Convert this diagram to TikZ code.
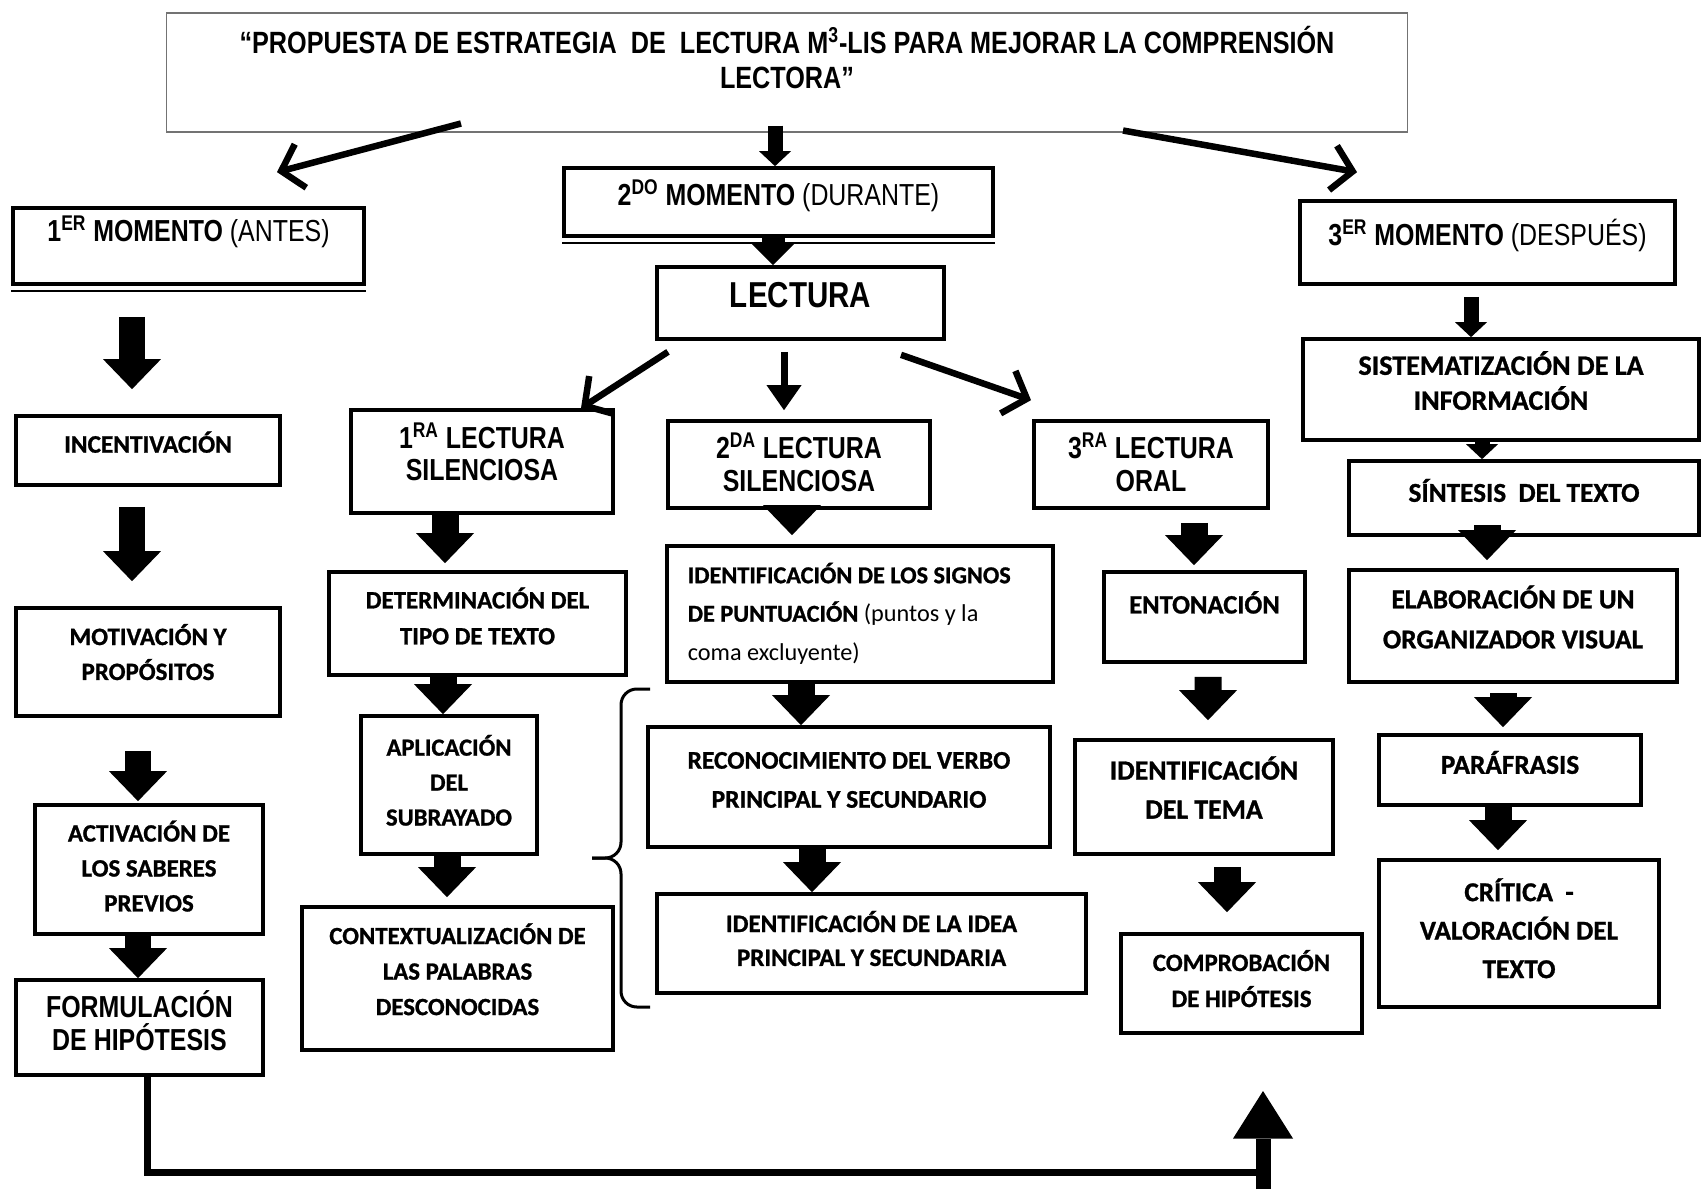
\documentclass[tikz,border=0pt]{standalone}
\usepackage{fontspec}
\setmainfont{Carlito}[BoldFeatures={FakeBold=1}]
\newfontfamily\narrowfont[FakeStretch=0.82]{Liberation Sans}
\usetikzlibrary{arrows.meta}
% texto en varias lineas, subido #2
\newcommand{\lineas}[3][c]{\raisebox{#2}[\height][\depth]{\begin{tabular}{@{}#1@{}}#3\end{tabular}}}

\tikzset{
  caja/.style={draw, line width=2.1pt, inner sep=0pt, align=center},
  titulobox/.style={draw=black!55, line width=0.6pt},
  cal/.style 2 args={font=\bfseries\fontsize{#1}{#2}\selectfont},
  estrecha/.style 2 args={font=\narrowfont\bfseries\fontsize{#1}{#2}\selectfont},
  flecha/.style={line width=0.54cm, -{Triangle[width=1.16cm,length=0.6cm,line width=0pt]}},
  flechita/.style={line width=0.3cm, -{Triangle[width=0.64cm,length=0.3cm,line width=0pt]}},
  flechamedia/.style={line width=0.46cm, -{Triangle[width=0.88cm,length=0.44cm,line width=0pt]}},
  rama/.style={line width=0.13cm, -{Straight Barb[length=0.4cm,width=0.9cm]}},
  ramabaja/.style={line width=0.14cm, -{Triangle[width=0.7cm,length=0.5cm,line width=0pt]}},
  subida/.style={line width=0.3cm, -{Triangle[width=1.2cm,length=0.95cm,line width=0pt]}},
  llave/.style={line width=0.06cm, rounded corners=9},
}

\begin{document}
\begin{tikzpicture}[x=0.02cm, y=-0.02cm]
			%%%%% START %%%%%
			\useasboundingbox (0,0) rectangle (1702,1189);

			% titulo
			\node[titulobox, minimum width=24.84cm, minimum height=2.38cm] (titulo) at (787,72.5) {};
			\node[estrecha={17.5}{19.9}] (titulotexto) at (787,63)
				{\lineas{0cm}{“PROPUESTA DE ESTRATEGIA\ \ DE\ \ LECTURA M\textsuperscript{3}-LIS PARA MEJORAR LA COMPRENSIÓN\\LECTORA”}};

			% momentos
			\node[caja, estrecha={17.3}{18}, minimum width=7.02cm, minimum height=1.52cm, text height=12.4pt, text depth=17.1pt] (ante) at (188.5,246)
				{1\textsuperscript{ER} MOMENTO {\mdseries (ANTES)}};
			\node[caja, estrecha={17.3}{18}, minimum width=8.58cm, minimum height=1.36cm, text height=12.4pt, text depth=8pt] (durante) at (778.5,202)
				{2\textsuperscript{DO} MOMENTO {\mdseries (DURANTE)}};
			\node[caja, estrecha={20.5}{24}, minimum width=5.74cm, minimum height=1.44cm, text height=14.7pt, text depth=9.1pt] (lectura) at (800.5,303) {LECTURA};
			\node[caja, estrecha={17.3}{18}, minimum width=7.5cm, minimum height=1.66cm, text height=12.4pt, text depth=9.1pt] (despues) at (1487.5,242.5)
				{3\textsuperscript{ER} MOMENTO {\mdseries (DESPUÉS)}};
			\draw[line width=0.8pt] ([shift={(0,5)}]durante.south west) -- ([shift={(0,5)}]durante.south east);
			\draw[line width=0.8pt] ([shift={(0,5)}]ante.south west) -- ([shift={(0,5)}]ante.south east);

			% antes
			\node[caja, cal={14.4}{19}, minimum width=5.28cm, minimum height=1.38cm, text height=9.3pt, text depth=6.8pt] (incent) at (148,450.5) {INCENTIVACIÓN};
			\node[caja, cal={14.2}{19.9}, minimum width=5.28cm, minimum height=2.16cm] (motiv) at (148,662) {\lineas{0.13cm}{MOTIVACIÓN Y\\PROPÓSITOS}};
			\node[caja, cal={14.2}{19.9}, minimum width=4.56cm, minimum height=2.58cm] (activ) at (149,869.5) {\lineas{0cm}{ACTIVACIÓN DE\\LOS SABERES\\PREVIOS}};
			\node[caja, estrecha={17.3}{18.8}, minimum width=4.94cm, minimum height=1.9cm] (formul) at (139.5,1027.5) {\lineas{0.044cm}{FORMULACIÓN\\DE HIP\smash{Ó}TESIS}};

			% durante, primera lectura
			\node[caja, estrecha={17.3}{18.2}, minimum width=5.24cm, minimum height=2.06cm] (lect1) at (482,461.5) {\lineas{0.093cm}{1\textsuperscript{RA} LECTURA\\SILENCIOSA}};
			\node[caja, cal={14.2}{20.5}, minimum width=5.94cm, minimum height=2.06cm] (determ) at (477.5,623.5) {\lineas{0.086cm}{DETERMINACIÓN DEL\\TIPO DE TEXTO}};
			\node[caja, cal={14}{19.9}, minimum width=3.52cm, minimum height=2.76cm] (aplic) at (449,785) {\lineas{0.028cm}{APLICACIÓN\\DEL\\SUBRAYADO}};
			\node[caja, cal={14.1}{20.2}, minimum width=6.22cm, minimum height=2.86cm] (context) at (457.5,978.5) {\lineas{0.12cm}{CONTEXTUALIZACIÓN DE\\LAS PALABRAS\\DESCONOCIDAS}};

			% durante, segunda lectura
			\node[caja, estrecha={17.3}{18.8}, minimum width=5.24cm, minimum height=1.74cm] (lect2) at (799,464.5) {\lineas{-0.06cm}{2\textsuperscript{DA} LECTURA\\SILENCIOSA}};
			\node[caja, cal={13.8}{21.9}, minimum width=7.72cm, minimum height=2.72cm] (signos) at (860,614)
				{\lineas[l]{0cm}{IDENTIFICACIÓN DE LOS SIGNOS\\DE PUNTUACIÓN {\mdseries (puntos y la}\\{\mdseries coma excluyente)}}\hspace*{0.43cm}};
			\node[caja, cal={14.5}{22.2}, minimum width=8.04cm, minimum height=2.4cm] (verbo) at (849,787) {\lineas{0.132cm}{RECONOCIMIENTO DEL VERBO\\PRINCIPAL Y SECUNDARIO}};
			\node[caja, cal={14.3}{19.3}, minimum width=8.58cm, minimum height=1.98cm] (idea) at (871.5,943.5) {\lineas{0.026cm}{IDENTIFICACIÓN DE LA IDEA\\PRINCIPAL Y SECUNDARIA}};

			% durante, tercera lectura
			\node[caja, estrecha={17.3}{18.8}, minimum width=4.68cm, minimum height=1.74cm] (lect3) at (1151,464.5) {\lineas{-0.06cm}{3\textsuperscript{RA} LECTURA\\ORAL}};
			\node[caja, cal={15.1}{20}, minimum width=4.02cm, minimum height=1.8cm, text height=9.7pt, text depth=13.7pt] (entona) at (1204.5,617) {ENTONACIÓN};
			\node[caja, cal={15.8}{22.2}, minimum width=5.16cm, minimum height=2.28cm] (tema) at (1204,797) {\lineas{0.114cm}{IDENTIFICACIÓN\\DEL TEMA}};
			\node[caja, cal={14.2}{20.5}, minimum width=4.82cm, minimum height=1.98cm] (compro) at (1241.5,983.5) {\lineas{0.034cm}{COMPROBACIÓN\\DE HIPÓTESIS}};

			% despues
			\node[caja, cal={16}{19.9}, minimum width=7.92cm, minimum height=2.02cm] (sistem) at (1501,389.5) {\lineas{0.084cm}{SISTEMATIZACIÓN DE LA\\INFORMACIÓN}};
			\node[caja, cal={15.5}{20}, minimum width=7cm, minimum height=1.48cm, text height=10pt, text depth=5.7pt] (sintesis) at (1524,498) {SÍNTESIS\ \ DEL TEXTO};
			\node[caja, cal={15.5}{22.8}, minimum width=6.56cm, minimum height=2.24cm] (elabor) at (1513,626) {\lineas{0.114cm}{ELABORACIÓN DE UN\\ORGANIZADOR VISUAL}};
			\node[caja, cal={15.5}{20}, minimum width=5.24cm, minimum height=1.4cm, text height=10pt, text depth=5.7pt] (parafr) at (1510,770) {PARÁFRASIS};
			\node[caja, cal={15.5}{21.9}, minimum width=5.6cm, minimum height=2.94cm] (critica) at (1519,933.5) {\lineas{0.032cm}{CRÍTICA\ \ -\\VALORACIÓN DEL\\TEXTO}};

			% flechas del titulo
			\draw[rama] ([shift={(-326,-9)}]titulo.south) -- ([shift={(88.5,-34)}]ante.north);
			\draw[flechita] ([shift={(-12,-7)}]titulo.south) -- ([shift={(-3.5,0)}]durante.north);
			\draw[rama] ([shift={(336,-2)}]titulo.south) -- ([shift={(-130.5,-27)}]despues.north);
			\draw[flechamedia] ([shift={(-5.5,0)}]durante.south) -- ([shift={(-27.5,0)}]lectura.north);

			% flechas de lectura
			\draw[rama] ([shift={(-132.5,11)}]lectura.south) -- ([shift={(99,0)}]lect1.north);
			\draw[ramabaja] ([shift={(-16.5,11)}]lectura.south) -- ([shift={(-15,-9)}]lect2.north);
			\draw[rama] ([shift={(100.5,14)}]lectura.south) -- ([shift={(-120,-19)}]lect3.north);

			% columna antes
			\draw[flecha] ([shift={(-56.5,31)}]ante.south) -- ([shift={(-16,-25)}]incent.north);
			\draw[flecha] ([shift={(-16,20)}]incent.south) -- ([shift={(-16,-25)}]motiv.north);
			\draw[flecha] ([shift={(-10,33)}]motiv.south) -- ([shift={(-11,-2)}]activ.north);
			\draw[flecha] ([shift={(-11,0)}]activ.south) -- ([shift={(-1.5,0)}]formul.north);

			% columnas durante
			\draw[flecha] ([shift={(-37,0)}]lect1.south) -- ([shift={(-32.5,-7)}]determ.north);
			\draw[flecha] ([shift={(-34.5,0)}]determ.south) -- ([shift={(-6,0)}]aplic.north);
			\draw[flecha] ([shift={(-2,0)}]aplic.south) -- ([shift={(-10.5,-8)}]context.north);

			\draw[flecha] ([shift={(-7,0)}]lect2.south) -- ([shift={(-68,-9)}]signos.north);
			\draw[flecha] ([shift={(-59,0)}]signos.south) -- ([shift={(-48,0)}]verbo.north);
			\draw[flecha] ([shift={(-37,0)}]verbo.south) -- ([shift={(-59.5,0)}]idea.north);

			\draw[flecha] ([shift={(43,13)}]lect3.south) -- ([shift={(-10.5,-5)}]entona.north);
			\draw[flecha] ([shift={(3.5,13)}]entona.south) -- ([shift={(4,-18)}]tema.north);
			\draw[flecha] ([shift={(23,11)}]tema.south) -- ([shift={(-14.5,-20)}]compro.north);

			% columna despues
			\draw[flechita] ([shift={(-16.5,11)}]despues.south) -- ([shift={(-30,0)}]sistem.north);
			\draw[flechita] ([shift={(-19,0)}]sistem.south) -- ([shift={(-42,0)}]sintesis.north);
			\draw[flecha] ([shift={(-37,-12)}]sintesis.south) -- ([shift={(-26,-8)}]elabor.north);
			\draw[flecha] ([shift={(-10,9)}]elabor.south) -- ([shift={(-7,-6)}]parafr.north);
			\draw[flecha] ([shift={(-12,0)}]parafr.south) -- ([shift={(-21,-8)}]critica.north);

			% llave
			\draw[llave] (650,689) -- (621,689) -- (621,858) -- (592,858);
			\draw[llave] (592,858) -- (621,858) -- (621,1007) -- (650,1007);

			% retorno
			\coordinate (retorno) at (1263,1172);
			\coordinate (pie) at (1263,1189);
			\coordinate (punta) at (1263,1091);
			\draw[line width=0.14cm] ([shift={(7.5,0)}]formul.south) |- (retorno);
			\draw[subida] (pie) -- (punta);

			%%%%% END %%%%%
\end{tikzpicture}
\end{document}
